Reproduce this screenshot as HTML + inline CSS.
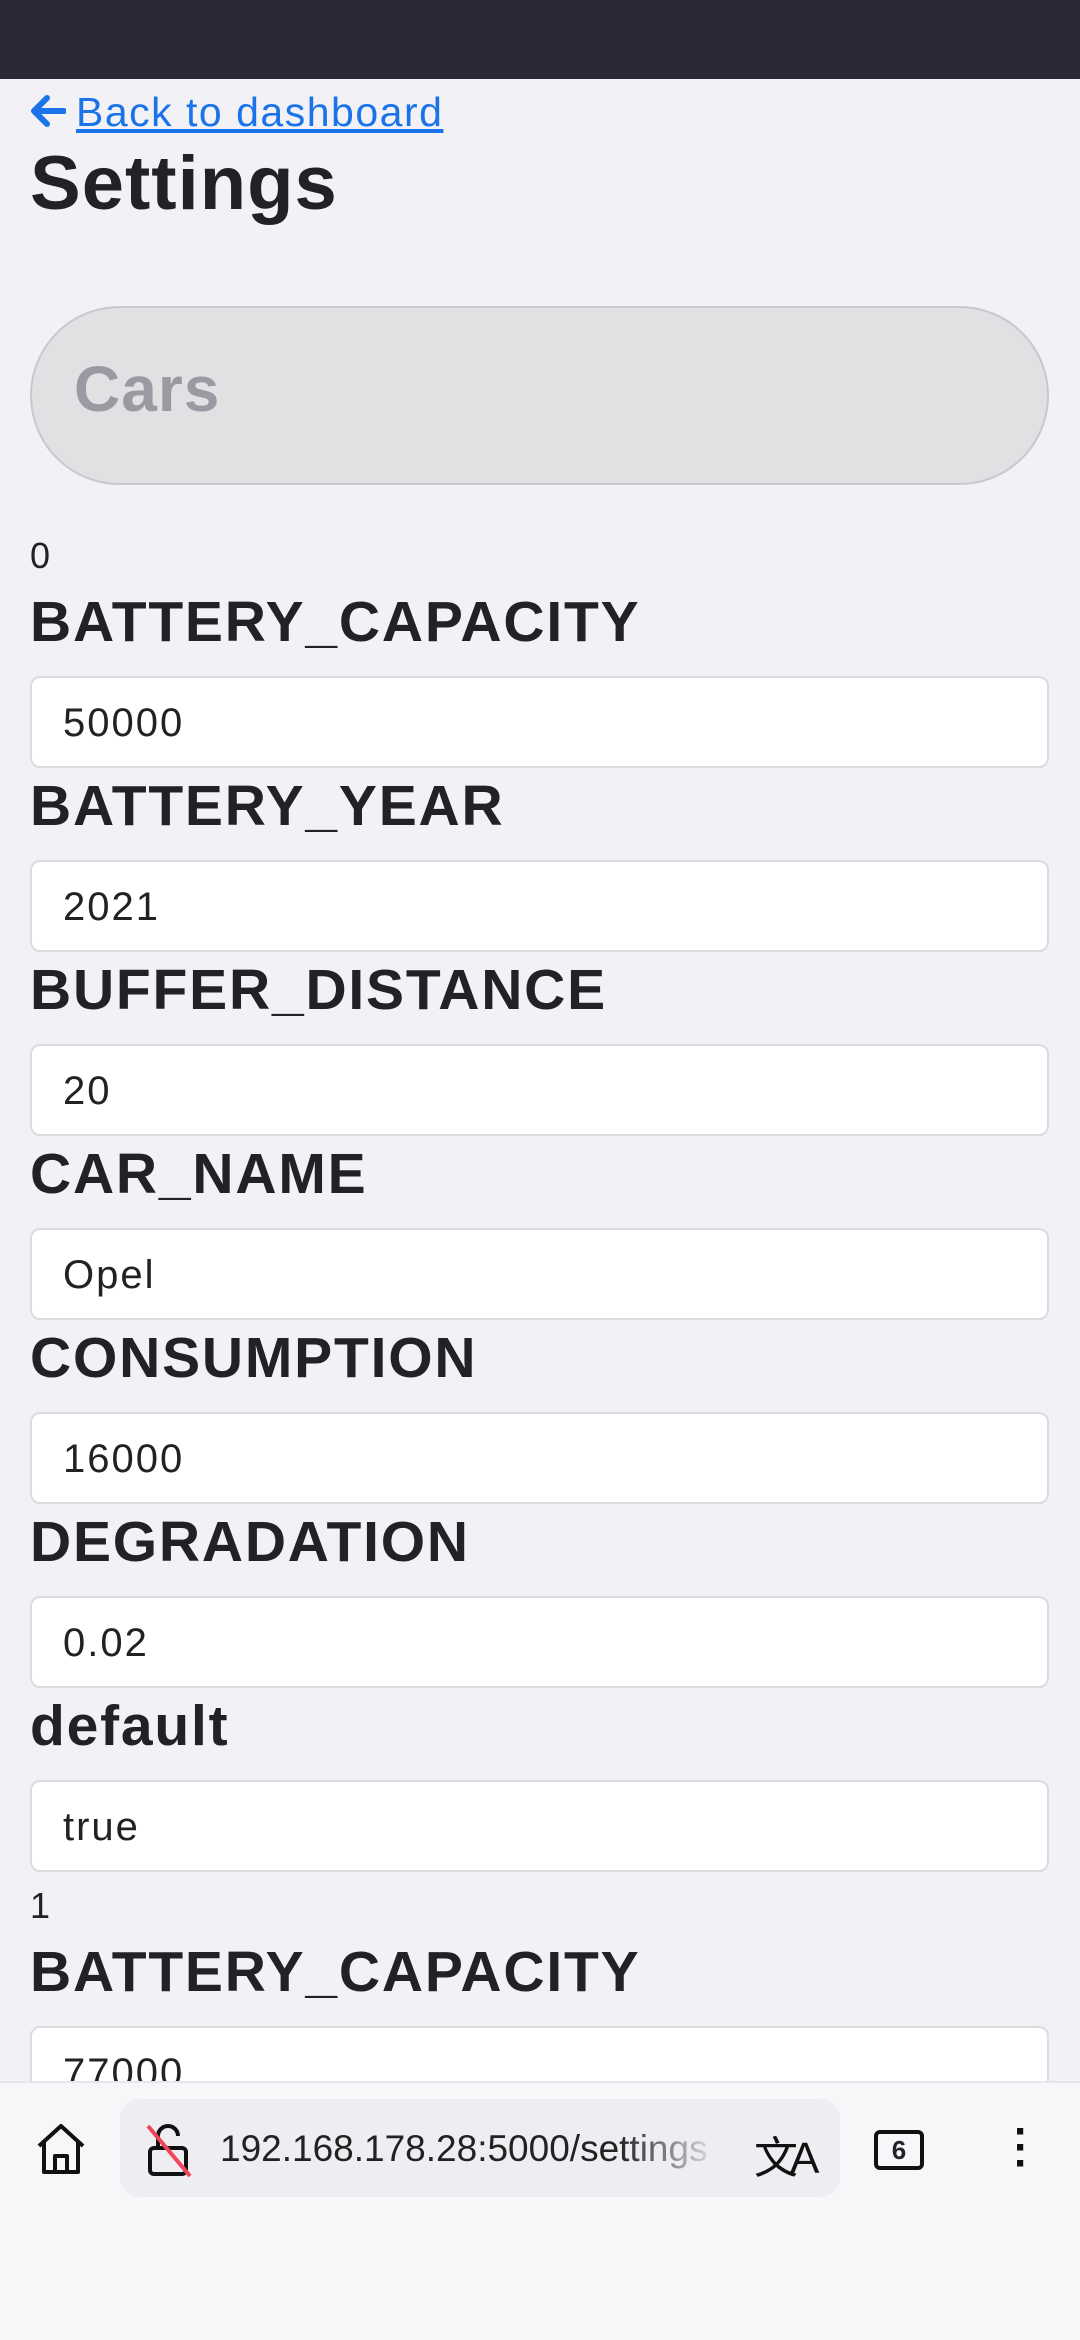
<!DOCTYPE html>
<html><head><meta charset="utf-8"><style>
*{box-sizing:border-box;margin:0;padding:0}
body{width:1080px;height:2340px;overflow:hidden;background:#f2f2f6;font-family:"Liberation Sans",sans-serif;color:#222226;position:relative}
.abs{position:absolute}
.topbar{left:0;top:0;width:1080px;height:79px;background:#2a2a36}
.back{left:76px;top:89px;font-size:41px;color:#1a73e8;text-decoration:underline;white-space:nowrap;letter-spacing:1.5px}
.title{left:30px;top:140px;font-size:76px;font-weight:bold;letter-spacing:1px}
.cars{left:30px;top:306px;width:1019px;height:179px;border-radius:90px;background:#e1e1e4;border:2px solid #c8c8cd}
.cars span{position:absolute;left:42px;top:44px;font-size:64px;font-weight:bold;color:#9a9aa3;letter-spacing:1px}
.idx{left:30px;font-size:36px}
.lbl{left:30px;font-size:57px;font-weight:bold;white-space:nowrap;letter-spacing:1.8px}
.inp{left:30px;width:1019px;height:92px;background:#fff;border:2px solid #dcdce0;border-radius:10px;font-size:40px;padding-left:31px;line-height:90px;color:#222;letter-spacing:2px}
.bottom{left:0;top:2081px;width:1080px;height:259px;background:#f7f7fa;border-top:2px solid #e6e6ea}
.pill{left:120px;top:2099px;width:720px;height:98px;border-radius:20px;background:#eeeef2}
.url{left:220px;top:2128px;font-size:37px;color:#222;white-space:nowrap;width:500px;overflow:hidden;-webkit-mask-image:linear-gradient(to right,#000 80%,transparent);mask-image:linear-gradient(to right,#000 80%,transparent)}
</style></head><body>
<div class="abs topbar"></div>
<svg class="abs" style="left:30px;top:94px" width="36" height="34" viewBox="0 0 36 34"><path d="M34 17 H5 M17 4 L4 17 L17 30" fill="none" stroke="#1a73e8" stroke-width="6" stroke-linecap="round" stroke-linejoin="round"/></svg>
<div class="abs back">Back to dashboard</div>
<div class="abs title">Settings</div>
<div class="abs cars"><span>Cars</span></div>

<div class="abs idx" style="top:535px">0</div>
<div class="abs lbl" style="top:589px">BATTERY_CAPACITY</div>
<div class="abs inp" style="top:676px">50000</div>
<div class="abs lbl" style="top:773px">BATTERY_YEAR</div>
<div class="abs inp" style="top:860px">2021</div>
<div class="abs lbl" style="top:957px">BUFFER_DISTANCE</div>
<div class="abs inp" style="top:1044px">20</div>
<div class="abs lbl" style="top:1141px">CAR_NAME</div>
<div class="abs inp" style="top:1228px">Opel</div>
<div class="abs lbl" style="top:1325px">CONSUMPTION</div>
<div class="abs inp" style="top:1412px">16000</div>
<div class="abs lbl" style="top:1509px">DEGRADATION</div>
<div class="abs inp" style="top:1596px">0.02</div>
<div class="abs lbl" style="top:1693px">default</div>
<div class="abs inp" style="top:1780px">true</div>
<div class="abs idx" style="top:1885px">1</div>
<div class="abs lbl" style="top:1939px">BATTERY_CAPACITY</div>
<div class="abs inp" style="top:2026px">77000</div>

<div class="abs bottom"></div>
<svg class="abs" style="left:34px;top:2122px" width="54" height="54" viewBox="0 0 54 54"><path d="M5 24 L27 4 L49 24 M10 20 V50 H44 V20 M21 50 V34 H33 V50" fill="none" stroke="#111" stroke-width="4" stroke-linejoin="round"/></svg>
<div class="abs pill"></div>
<svg class="abs" style="left:146px;top:2122px" width="50" height="56" viewBox="0 0 50 56"><rect x="4" y="26" width="36" height="26" rx="4" fill="none" stroke="#111" stroke-width="4"/><path d="M12 26 V14 a10 10 0 0 1 20 0" fill="none" stroke="#111" stroke-width="4"/><line x1="2" y1="4" x2="44" y2="54" stroke="#f0465a" stroke-width="4"/></svg>
<div class="abs url">192.168.178.28:5000/settings</div>
<div class="abs" style="left:754px;top:2122px;font-size:44px;color:#111;letter-spacing:-8px">文A</div>
<div class="abs" style="left:874px;top:2130px;width:50px;height:40px;border:4px solid #111;border-radius:6px;font-size:26px;font-weight:bold;text-align:center;line-height:32px">6</div>
<div class="abs" style="left:1014px;top:2124px;font-size:44px;font-weight:bold;line-height:16px;color:#111">·<br>·<br>·</div>
</body></html>
